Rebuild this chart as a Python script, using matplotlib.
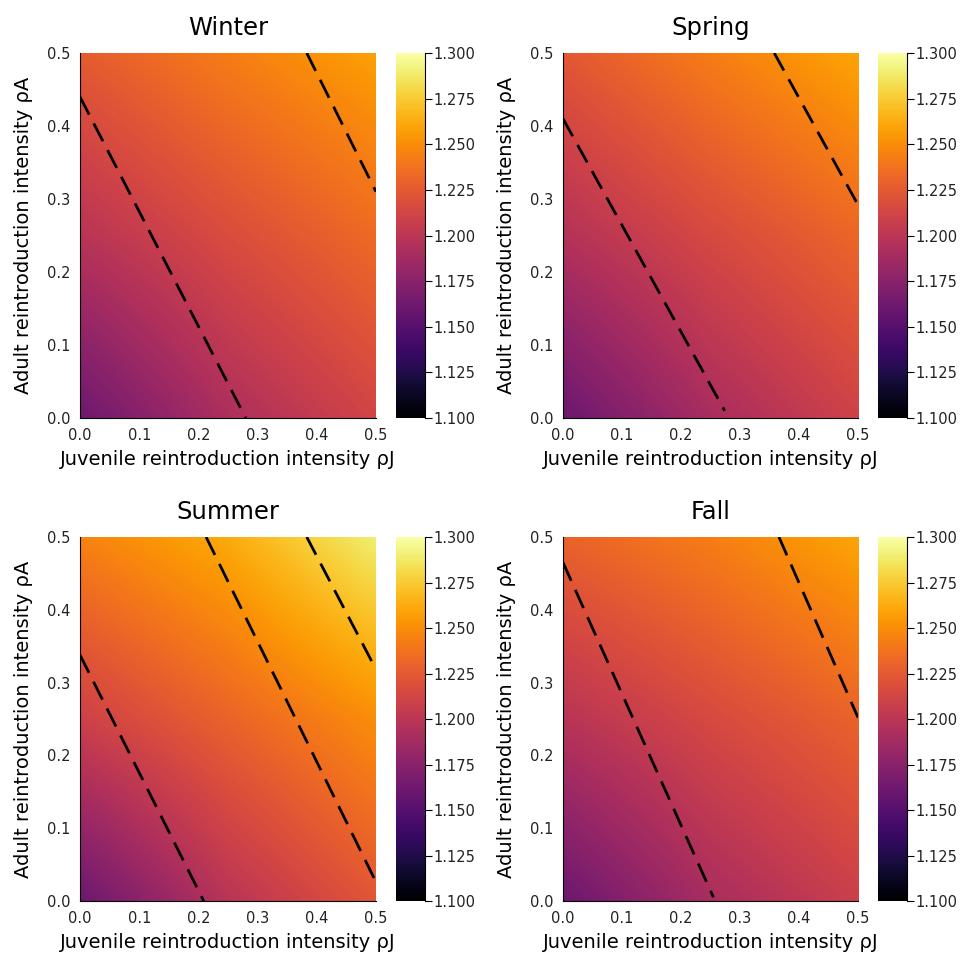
import matplotlib.pyplot as plt
import numpy as np

seasons = ["Winter", "Spring", "Summer", "Fall"]

# grid of reintroduction intensities
rho_J = [0.0, 0.25, 0.5]
rho_A = [0.0, 0.25, 0.5]

# growth rate, rows = rho_A (bottom to top), columns = rho_J
winter_growth = [[1.161, 1.192, 1.212],
                 [1.198, 1.217, 1.234],
                 [1.226, 1.243, 1.258]]
spring_growth = [[1.160, 1.190, 1.210],
                 [1.196, 1.215, 1.232],
                 [1.224, 1.243, 1.260]]
summer_growth = [[1.160, 1.198, 1.223],
                 [1.209, 1.230, 1.250],
                 [1.245, 1.262, 1.290]]
fall_growth = [[1.160, 1.190, 1.208],
               [1.198, 1.215, 1.230],
               [1.230, 1.243, 1.260]]

# dashed threshold lines, each as [(rhoJ, rhoA) start, (rhoJ, rhoA) end]
winter_lines = [[(0.0, 0.44), (0.28, 0.0)], [(0.383, 0.5), (0.5, 0.31)]]
spring_lines = [[(0.0, 0.41), (0.274, 0.01)], [(0.358, 0.5), (0.5, 0.292)]]
summer_lines = [[(0.0, 0.338), (0.209, 0.0)], [(0.213, 0.5), (0.5, 0.026)],
                [(0.383, 0.5), (0.5, 0.318)]]
fall_lines = [[(0.0, 0.465), (0.255, 0.005)], [(0.366, 0.5), (0.5, 0.252)]]

cbar_ticks = [1.100, 1.125, 1.150, 1.175, 1.200, 1.225, 1.250, 1.275, 1.300]
axis_ticks = [0.0, 0.1, 0.2, 0.3, 0.4, 0.5]

growth = [winter_growth, spring_growth, summer_growth, fall_growth]
lines = [winter_lines, spring_lines, summer_lines, fall_lines]

W, H = 961, 958
fig = plt.figure(figsize=(W / 100, H / 100), dpi=100)

# pixel boxes for each heatmap and its colorbar
ax_x = [(80, 376), (563, 858), (80, 376), (563, 858)]
cb_x = [(396, 425), (878, 907), (396, 425), (878, 907)]
row_y = [(53, 418), (53, 418), (537, 901), (537, 901)]

def box(x0, x1, y0, y1):
    return [x0 / W, 1 - y1 / H, (x1 - x0) / W, (y1 - y0) / H]

dx = rho_J[1] - rho_J[0]
dy = rho_A[1] - rho_A[0]

for i in range(4):
    ax = fig.add_axes(box(ax_x[i][0], ax_x[i][1], row_y[i][0], row_y[i][1]))
    cax = fig.add_axes(box(cb_x[i][0], cb_x[i][1], row_y[i][0], row_y[i][1]))

    z = np.array(growth[i])
    im = ax.imshow(z, origin="lower", cmap="inferno", vmin=1.1, vmax=1.3,
                   interpolation="bilinear", aspect="auto",
                   extent=[rho_J[0] - dx / 2, rho_J[-1] + dx / 2,
                           rho_A[0] - dy / 2, rho_A[-1] + dy / 2])
    for (p, q) in lines[i]:
        ax.plot([p[0], q[0]], [p[1], q[1]], color="black", lw=2.0,
                dashes=(7.2, 3.6))

    ax.set_xlim(0, 0.5)
    ax.set_ylim(0, 0.5)
    ax.set_xticks(axis_ticks)
    ax.set_yticks(axis_ticks)
    ax.set_xticklabels([f"{t:.1f}" for t in axis_ticks])
    ax.set_yticklabels([f"{t:.1f}" for t in axis_ticks])
    ax.tick_params(length=0, labelsize=10.5, labelcolor="#222222", pad=7)
    for s in ["top", "right"]:
        ax.spines[s].set_visible(False)
    ax.set_xlabel("Juvenile reintroduction intensity ρJ", fontsize=14, labelpad=5)
    ax.set_ylabel("Adult reintroduction intensity ρA", fontsize=14, labelpad=10)
    ax.set_title(seasons[i], fontsize=17.5, pad=13)

    cb = fig.colorbar(im, cax=cax)
    cb.outline.set_visible(False)
    cax.spines["right"].set_visible(True)
    cb.set_ticks(cbar_ticks)
    cb.set_ticklabels([f"{t:.3f}" for t in cbar_ticks])
    cax.tick_params(length=5, width=0.8, labelsize=10.5, labelcolor="#222222", pad=1)

fig.savefig("out.png", dpi=100)
